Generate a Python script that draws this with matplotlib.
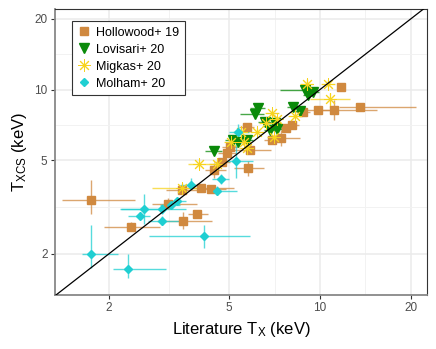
import numpy as np
import matplotlib
matplotlib.use("Agg")
import matplotlib.pyplot as plt
from matplotlib.ticker import FixedLocator, NullFormatter
from matplotlib.lines import Line2D

plt.rcParams['font.family'] = ['Liberation Sans', 'DejaVu Sans']

# Hollowood+ 19: T_lit, T_xcs and error ranges (lo, hi)
hol_x = [1.75, 2.36, 3.14, 3.51, 3.91, 3.50, 4.05, 4.34, 4.46, 4.72, 4.91, 5.03,
         5.78, 5.86, 5.71, 6.92, 7.45, 7.74, 8.05, 8.79, 9.86, 11.1, 11.7, 13.6]
hol_y = [3.39, 2.61, 3.25, 2.77, 2.94, 3.74, 3.81, 3.78, 4.54, 4.93, 5.35, 5.70,
         4.62, 5.53, 6.94, 6.10, 6.20, 6.83, 7.06, 7.99, 8.18, 8.18, 10.27, 8.39]
hol_xlo = [1.40, 1.93, 2.78, 2.89, 3.65, 3.10, 3.60, 3.90, 4.15, 4.45, 4.60, 4.75,
           5.20, 5.20, 5.40, 6.50, 7.00, 7.30, 7.60, 8.30, 8.80, 9.60, 11.4, 11.6]
hol_xhi = [2.44, 2.95, 3.90, 4.40, 4.25, 4.00, 5.20, 4.90, 4.90, 5.05, 5.25, 5.35,
           6.50, 6.90, 6.05, 7.40, 8.60, 8.20, 8.55, 9.30, 11.5, 15.5, 12.0, 20.8]
hol_ylo = [2.95, 2.50, 3.10, 2.55, 2.85, 3.60, 3.70, 3.65, 4.20, 4.75, 5.15, 5.50,
           4.30, 5.35, 6.70, 5.90, 5.75, 6.60, 6.80, 7.70, 7.90, 7.40, 10.05, 8.15]
hol_yhi = [4.12, 2.72, 3.45, 3.00, 3.03, 3.90, 3.92, 3.90, 4.85, 5.10, 5.55, 5.90,
           4.95, 5.70, 7.20, 6.30, 6.70, 7.05, 7.30, 8.30, 8.45, 9.00, 10.5, 8.65]

# Lovisari+ 20
lov_x = [4.47, 5.16, 5.36, 5.71, 6.21, 6.08, 6.57, 7.09, 7.23, 6.82, 8.15, 8.61, 8.91, 9.50, 9.15]
lov_y = [5.45, 6.10, 5.99, 6.10, 8.31, 7.86, 7.29, 7.18, 6.79, 6.71, 8.44, 8.09, 9.95, 9.77, 9.46]
lov_xlo = [4.15, 4.85, 5.10, 5.45, 5.85, 5.45, 6.25, 6.75, 6.90, 6.50, 7.75, 8.20, 7.36, 9.10, 8.80]
lov_xhi = [4.75, 5.45, 5.65, 6.00, 6.55, 6.50, 6.90, 7.45, 7.60, 7.15, 8.55, 9.00, 9.30, 9.90, 9.50]
lov_ylo = [5.30, 5.90, 5.80, 5.95, 8.10, 7.65, 7.10, 7.00, 6.60, 6.55, 8.25, 7.90, 9.70, 9.55, 9.25]
lov_yhi = [5.60, 6.30, 6.15, 6.25, 8.50, 8.05, 7.50, 7.35, 6.95, 6.90, 8.65, 8.30, 10.2, 10.0, 9.70]

# Migkas+ 20
mig_x = [3.48, 3.97, 4.56, 5.07, 5.47, 5.71, 5.60, 6.17, 6.62, 6.92, 7.18, 7.03, 8.27, 9.05, 10.66, 10.8]
mig_y = [3.81, 4.82, 4.82, 5.97, 6.61, 5.64, 6.00, 6.61, 7.23, 7.92, 7.48, 6.25, 7.75, 10.6, 10.6, 9.10]
mig_xlo = [2.78, 3.65, 4.30, 4.80, 5.15, 5.40, 5.30, 5.85, 6.30, 6.55, 6.85, 6.70, 7.85, 8.60, 10.1, 9.26]
mig_xhi = [4.15, 4.45, 4.85, 5.35, 5.80, 6.00, 5.90, 6.50, 6.95, 7.30, 7.50, 7.40, 8.70, 9.50, 11.2, 12.6]
mig_ylo = [3.65, 4.65, 4.65, 5.75, 6.30, 5.45, 5.80, 6.40, 7.00, 7.60, 7.25, 6.05, 7.50, 10.1, 10.2, 8.40]
mig_yhi = [4.00, 5.00, 5.00, 6.20, 6.90, 5.85, 6.20, 6.85, 7.45, 8.25, 7.70, 6.45, 8.00, 11.1, 11.0, 9.70]

# Molham+ 20
mol_x = [1.75, 2.32, 2.53, 2.62, 3.00, 3.00, 3.20, 3.35, 3.73, 4.14, 4.57, 4.70, 5.25, 5.35]
mol_y = [2.00, 1.72, 2.90, 3.09, 2.77, 3.10, 3.21, 3.35, 3.94, 2.39, 3.71, 4.15, 4.96, 6.60]
mol_xlo = [1.63, 2.06, 2.32, 2.17, 2.70, 2.20, 2.95, 3.10, 3.45, 2.71, 4.30, 4.40, 4.90, 5.00]
mol_xhi = [2.14, 3.10, 2.73, 2.95, 3.40, 3.60, 3.45, 3.60, 4.00, 5.86, 5.30, 5.00, 6.00, 5.80]
mol_ylo = [1.74, 1.57, 2.80, 2.68, 2.65, 2.95, 3.10, 3.25, 3.80, 2.11, 3.55, 3.95, 4.20, 6.10]
mol_yhi = [2.65, 2.00, 3.00, 3.59, 2.90, 3.25, 3.35, 3.45, 4.20, 2.65, 3.90, 4.35, 6.00, 7.10]

major_ticks = [2, 5, 10, 20]
minor_ticks = [3.16, 7.07, 14.1]

series = [
    ("Hollowood+ 19", hol_x, hol_y, hol_xlo, hol_xhi, hol_ylo, hol_yhi,
     "#D0893F", dict(marker="s", ms=5.3)),
    ("Lovisari+ 20", lov_x, lov_y, lov_xlo, lov_xhi, lov_ylo, lov_yhi,
     "#0A8A0A", dict(marker="v", ms=7.5)),
    ("Migkas+ 20", mig_x, mig_y, mig_xlo, mig_xhi, mig_ylo, mig_yhi,
     "#F7D31E", dict(marker=(8, 2, 0), ms=9.0, mew=0.7)),
    ("Molham+ 20", mol_x, mol_y, mol_xlo, mol_xhi, mol_ylo, mol_yhi,
     "#1FCFD2", dict(marker="D", ms=4.3)),
]

fig = plt.figure(figsize=(4.36, 3.49), dpi=100)
ax = fig.add_axes([0.125, 0.1547, 0.8555, 0.8193])

# error bars first, points on top
for name, x, y, xlo, xhi, ylo, yhi, col, mk in series:
    x = np.array(x); y = np.array(y)
    xerr = [x - np.array(xlo), np.array(xhi) - x]
    yerr = [y - np.array(ylo), np.array(yhi) - y]
    ax.errorbar(x, y, xerr=xerr, yerr=yerr, fmt="none", ecolor=col,
                elinewidth=1.0, alpha=0.75, capsize=0, zorder=2)

handles = []
for name, x, y, xlo, xhi, ylo, yhi, col, mk in series:
    ax.plot(x, y, ls="none", color=col, mec=col, zorder=3, **mk)
    handles.append(Line2D([], [], ls="none", color=col, mec=col, label=name, **mk))

lims = [1.32, 22.5]
ax.plot(lims, lims, color="black", lw=0.9, zorder=4)

ax.set_xscale("log")
ax.set_yscale("log")
ax.set_xlim(1.32, 22.7)
ax.set_ylim(1.335, 22.0)

for axis in (ax.xaxis, ax.yaxis):
    axis.set_major_locator(FixedLocator(major_ticks))
    axis.set_minor_locator(FixedLocator(minor_ticks))
    axis.set_minor_formatter(NullFormatter())
ax.set_xticklabels([str(t) for t in major_ticks])
ax.set_yticklabels([str(t) for t in major_ticks])

ax.grid(True, which="major", color="#EBEBEB", lw=1.1, zorder=0)
ax.grid(True, which="minor", color="#F2F2F2", lw=0.7, zorder=0)
ax.set_axisbelow(True)

ax.tick_params(which="major", length=3, width=0.8, color="#333333",
               labelsize=8.5, labelcolor="#4D4D4D", pad=2)
ax.tick_params(which="minor", length=0)

for side in ("top", "right"):
    ax.spines[side].set_color("#333333")
    ax.spines[side].set_linewidth(0.8)
for side in ("left", "bottom"):
    ax.spines[side].set_color("#888888")
    ax.spines[side].set_linewidth(1.3)

ax.set_xlabel(r"Literature $\mathregular{T_X}$ (keV)", fontsize=12, labelpad=4)
ax.set_ylabel(r"$\mathregular{T_{XCS}}$ (keV)", fontsize=12, labelpad=4)

leg = ax.legend(handles=handles, loc="upper left", bbox_to_anchor=(0.047, 0.958),
                borderaxespad=0, fontsize=9, frameon=True, fancybox=False,
                framealpha=1, edgecolor="#333333", handlelength=1.0,
                handletextpad=0.5, borderpad=0.45, labelspacing=0.4)
leg.get_frame().set_linewidth(0.8)

fig.savefig("out.png", dpi=100)
